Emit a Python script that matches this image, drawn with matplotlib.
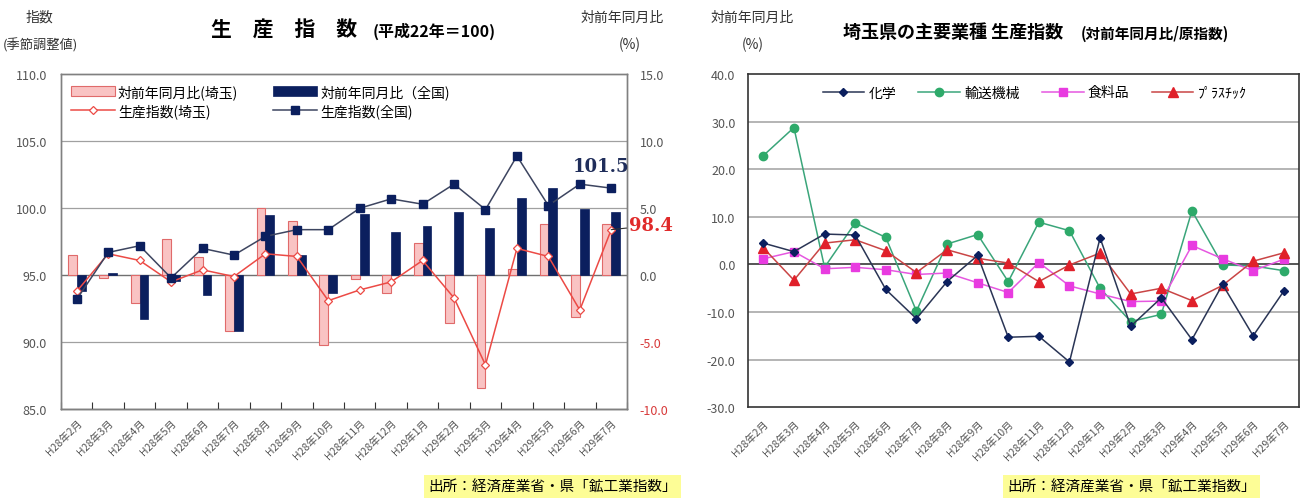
import matplotlib
matplotlib.use("Agg")
import matplotlib.pyplot as plt
import numpy as np

plt.rcParams['font.family'] = ['Noto Sans CJK JP', 'DejaVu Sans']

months = ["H28年2月", "H28年3月", "H28年4月", "H28年5月", "H28年6月", "H28年7月",
          "H28年8月", "H28年9月", "H28年10月", "H28年11月", "H28年12月", "H29年1月",
          "H29年2月", "H29年3月", "H29年4月", "H29年5月", "H29年6月", "H29年7月"]

# left chart: production index (seasonally adjusted) and YoY %
idx_saitama = [93.8, 96.6, 96.1, 94.5, 95.4, 94.9, 96.6, 96.4, 93.1, 93.9,
               94.5, 96.1, 93.3, 88.3, 97.0, 96.4, 92.4, 98.4]
idx_japan = [93.2, 96.7, 97.2, 94.8, 97.0, 96.5, 97.9, 98.4, 98.4, 100.0,
             100.7, 100.3, 101.8, 99.9, 103.9, 100.2, 101.8, 101.5]
yoy_saitama = [1.5, -0.2, -2.1, 2.7, 1.35, -4.2, 5.0, 4.05, -5.2, -0.3,
               -1.3, 2.4, -3.55, -8.4, 0.5, 3.85, -3.1, 3.85]
yoy_japan = [-1.2, 0.15, -3.3, -0.4, -1.45, -4.15, 4.5, 1.5, -1.35, 4.55,
             3.2, 3.65, 4.75, 3.5, 5.75, 6.5, 4.95, 4.75]

# right chart: main industries YoY % (raw index)
chem = [4.5, 2.7, 6.4, 6.2, -5.25, -11.4, -3.6, 1.9, -15.3, -15.1,
        -20.5, 5.6, -13.0, -7.0, -15.8, -4.2, -15.0, -5.6]
transport = [22.9, 28.8, -0.6, 8.75, 5.7, -9.8, 4.3, 6.3, -3.6, 8.9,
             7.1, -5.0, -12.0, -10.5, 11.3, -0.1, -0.3, -1.3]
food = [1.2, 2.7, -0.9, -0.6, -1.1, -2.1, -1.8, -3.85, -5.9, 0.4,
        -4.5, -6.2, -7.8, -7.7, 4.0, 1.2, -1.3, 1.1]
plastic = [3.5, -3.3, 4.5, 5.2, 2.9, -1.7, 3.1, 1.3, 0.3, -3.6,
           -0.1, 2.4, -6.2, -5.0, -7.6, -4.4, 0.7, 2.45]

yoy_ticks = np.arange(-10, 16, 5)
idx_ticks = np.arange(85, 111, 5)
ind_ticks = np.arange(-30, 41, 10)

PINK = "#f9c3c3"
PINK_EDGE = "#e06a6a"
NAVY = "#0b1f5e"
RED = "#ec4a45"
GREY_TXT = "#555555"

fig = plt.figure(figsize=(13.13, 5.02), dpi=100)
x = np.arange(len(months))

# ---------------- left chart ----------------
ax = fig.add_axes([0.0465, 0.183, 0.431, 0.667])
w = 0.28
ax.bar(x - w / 2, yoy_saitama, width=w, color=PINK, edgecolor=PINK_EDGE,
       linewidth=0.8, label="対前年同月比(埼玉)", zorder=2)
ax.bar(x + w / 2, yoy_japan, width=w, color=NAVY, edgecolor=NAVY,
       linewidth=0.5, label="対前年同月比（全国)", zorder=2)
ax.set_ylim(-10, 15)
for v in [-5, 5, 10]:
    ax.axhline(v, color="#a0a0a0", lw=0.9, zorder=1)
ax.axhline(0, color="#707070", lw=1.0, zorder=1)

ax2 = ax.twinx()
ax2.plot(x, idx_saitama, color=RED, lw=1.1, marker="D", ms=4,
         mfc="white", mec=RED, mew=0.9, label="生産指数(埼玉)", zorder=3)
ax2.plot(x, idx_japan, color="#3d4560", lw=1.1, marker="s", ms=5.5,
         mfc=NAVY, mec=NAVY, label="生産指数(全国)", zorder=3)
ax2.set_ylim(85, 110)

# bars scale on the right, index scale on the left
ax.yaxis.tick_right()
ax2.yaxis.tick_left()
ax.set_yticks(yoy_ticks)
ax.set_yticklabels([f"{v:.1f}" for v in yoy_ticks])
ax.tick_params(axis="y", length=0, labelsize=9, pad=9, left=False, labelleft=False,
               right=False, labelright=True)
for lab, v in zip(ax.get_yticklabels(), yoy_ticks):
    lab.set_color("#d83a3a" if v < 0 else GREY_TXT)
ax2.set_yticks(idx_ticks)
ax2.set_yticklabels([f"{v:.1f}" for v in idx_ticks])
ax2.tick_params(axis="y", length=0, labelsize=9, labelcolor=GREY_TXT, pad=10,
                right=False, labelright=False, left=False, labelleft=True)

ax.set_xlim(-0.5, len(months) - 0.5)
ax.set_xticks(np.arange(len(months) + 1) - 0.5)
ax.set_xticklabels([])
ax.tick_params(axis="x", which="major", direction="in", length=5, color="#333333")
ax.set_xticks(x, minor=True)
ax.set_xticklabels(months, minor=True, rotation=45, ha="right",
                   rotation_mode="anchor", fontsize=7.5, color=GREY_TXT)
ax.tick_params(axis="x", which="minor", length=0, pad=6)
for sp in list(ax.spines.values()) + list(ax2.spines.values()):
    sp.set_color("#808080")
    sp.set_linewidth(1.0)
ax.spines["bottom"].set_color("#333333")

h1, l1 = ax.get_legend_handles_labels()
h2, l2 = ax2.get_legend_handles_labels()
ax2.legend([h1[0], h2[0], h1[1], h2[1]], [l1[0], l2[0], l1[1], l2[1]],
           ncol=2, loc="upper left", bbox_to_anchor=(0.0, 1.0), frameon=False,
           fontsize=10, handlelength=3.2, handletextpad=0.2, columnspacing=2.5,
           labelspacing=0.3, borderaxespad=0.3)

ax2.annotate(f"{idx_japan[-1]:.1f}", xy=(x[-1], idx_japan[-1]),
             xytext=(-28, 12), textcoords="offset points", fontsize=13,
             fontweight="bold", color="#1f2d5a", family="DejaVu Serif")
ax2.annotate(f"{idx_saitama[-1]:.1f}", xy=(x[-1], idx_saitama[-1]),
             xytext=(13, 3), textcoords="offset points", fontsize=13,
             fontweight="bold", color="#e02a2a", family="DejaVu Serif",
             va="center", annotation_clip=False,
             arrowprops=dict(arrowstyle="-", color="#333333", lw=0.8,
                             shrinkA=0, shrinkB=0))

fig.text(0.030, 0.965, "指数", fontsize=10, color="#333333", ha="center", va="center")
fig.text(0.031, 0.91, "(季節調整値)", fontsize=9.5, color="#333333", ha="center", va="center")
fig.text(0.474, 0.965, "対前年同月比", fontsize=10, color="#333333", ha="center", va="center")
fig.text(0.48, 0.91, "(%)", fontsize=10, color="#333333", ha="center", va="center")
fig.text(0.216, 0.94, "生\u3000産\u3000指\u3000数", fontsize=15, fontweight="bold",
         ha="center", va="center")
fig.text(0.284, 0.937, "(平成22年＝100)", fontsize=11.5, fontweight="bold",
         ha="left", va="center")
fig.text(0.326, 0.028, "出所：経済産業省・県「鉱工業指数」", fontsize=10.5,
         ha="left", va="center",
         bbox=dict(boxstyle="square,pad=0.3", fc="#fdfd96", ec="none"))

# ---------------- right chart ----------------
bx = fig.add_axes([0.5697, 0.187, 0.4197, 0.663])
bx.plot(x, chem, color="#2a3555", lw=1.1, marker="D", ms=4.5,
        mfc="#0b1f5e", mec="#0b1f5e", label="化学", zorder=4)
bx.plot(x, transport, color="#3aa57a", lw=1.1, marker="o", ms=6,
        mfc="#2eaa6a", mec="#2eaa6a", label="輸送機械", zorder=3)
bx.plot(x, food, color="#e657e0", lw=1.1, marker="s", ms=6,
        mfc="#e83be0", mec="#e83be0", label="食料品", zorder=3)
bx.plot(x, plastic, color="#c94545", lw=1.1, marker="^", ms=6.5,
        mfc="#e0202a", mec="#e0202a", label="ﾌﾟﾗｽﾁｯｸ", zorder=3)
bx.set_ylim(-30, 40)
bx.set_yticks(ind_ticks)
bx.set_yticklabels([f"{v:.1f}" for v in ind_ticks])
bx.tick_params(axis="y", length=0, labelsize=9, labelcolor=GREY_TXT, pad=9)
for v in [-20, -10, 10, 20, 30]:
    bx.axhline(v, color="#a8a8a8", lw=1.2, zorder=1)
bx.axhline(0, color="#555555", lw=1.4, zorder=1)
bx.set_xlim(-0.5, len(months) - 0.5)
bx.set_xticks(x)
bx.set_xticklabels(months, rotation=45, ha="right", rotation_mode="anchor",
                   fontsize=7.5, color=GREY_TXT)
bx.tick_params(axis="x", length=0, pad=8)
for sp in bx.spines.values():
    sp.set_color("#333333")
    sp.set_linewidth(1.2)
bx.legend(ncol=4, loc="upper center", bbox_to_anchor=(0.52, 1.0), frameon=False,
          fontsize=10, handlelength=3.0, handletextpad=0.3, columnspacing=1.6,
          borderaxespad=0.4)

fig.text(0.573, 0.965, "対前年同月比", fontsize=10, color="#333333", ha="center", va="center")
fig.text(0.573, 0.91, "(%)", fontsize=10, color="#333333", ha="center", va="center")
fig.text(0.642, 0.935, "埼玉県の主要業種 生産指数", fontsize=13, fontweight="bold",
         ha="left", va="center")
fig.text(0.823, 0.933, "(対前年同月比/原指数)", fontsize=10.5, fontweight="bold",
         ha="left", va="center")
fig.text(0.767, 0.028, "出所：経済産業省・県「鉱工業指数」", fontsize=10.5,
         ha="left", va="center",
         bbox=dict(boxstyle="square,pad=0.3", fc="#fdfd96", ec="none"))

fig.savefig("out.png", dpi=100)
